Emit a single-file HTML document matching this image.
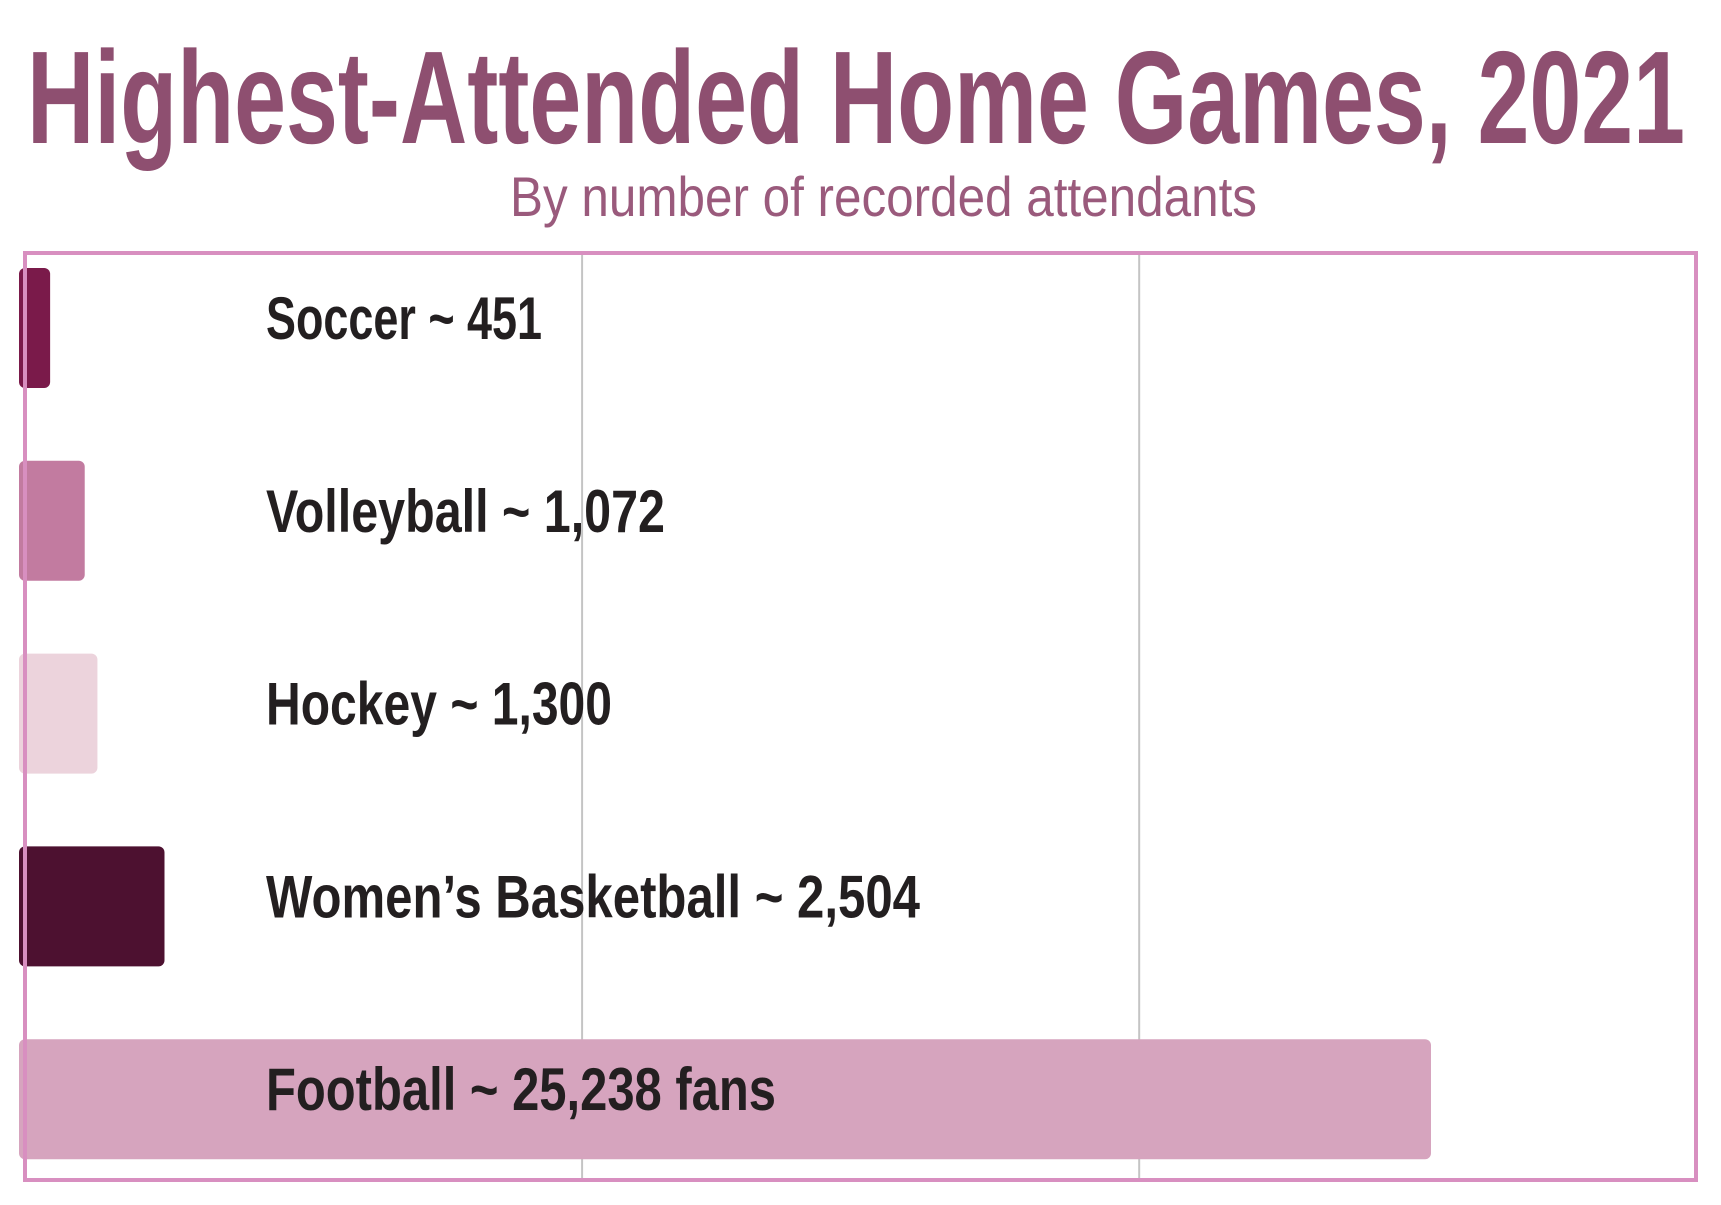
<!DOCTYPE html>
<html><head><meta charset="utf-8">
<style>
html,body{margin:0;padding:0;background:#fff;}
svg{display:block;}
text{font-family:"Liberation Sans Narrow","Liberation Sans",sans-serif;}
</style></head>
<body>
<svg id="chart" width="1721" height="1205" viewBox="0 0 1721 1205" xmlns="http://www.w3.org/2000/svg">
  <text x="27" y="143" font-size="132" font-weight="bold" fill="#8e4f70" textLength="1658" lengthAdjust="spacingAndGlyphs">Highest-Attended Home Games, 2021</text>
  <text x="510" y="216" font-size="56" fill="#9a5a7c" textLength="747" lengthAdjust="spacingAndGlyphs">By number of recorded attendants</text>
  <g id="grid"></g>
  <g id="bars"></g>
  <rect x="25" y="253" width="1671" height="927" fill="none" stroke="#d88fc0" stroke-width="4"/>
</svg>
<script>
const categories = ["Soccer", "Volleyball", "Hockey", "Women\u2019s Basketball", "Football"];
const values = [451, 1072, 1300, 2504, 25238];
const valueLabels = ["451", "1,072", "1,300", "2,504", "25,238 fans"];
const gridTicks = [10000, 20000];

const NS = "http://www.w3.org/2000/svg";
const x0 = 25, pxPerUnit = 1406 / 25238;
function xScale(v){ return x0 + v * pxPerUnit; }
const bandTop = 268, bandStep = 192.8, barH = 120;
function yScale(i){ return bandTop + i * bandStep; }
const colors = ["#7a1a4a", "#c27ba0", "#ecd3dc", "#4d1130", "#d6a4be"];
const labelWidths = [276, 399, 346, 654, 510];

const grid = document.getElementById("grid");
gridTicks.forEach(t => {
  const l = document.createElementNS(NS, "line");
  l.setAttribute("x1", xScale(t)); l.setAttribute("x2", xScale(t));
  l.setAttribute("y1", 253); l.setAttribute("y2", 1180);
  l.setAttribute("stroke", "#c4c4c4"); l.setAttribute("stroke-width", "2");
  
  
  grid.appendChild(l);
});

const bars = document.getElementById("bars");
categories.forEach((c, i) => {
  const r = document.createElementNS(NS, "rect");
  const w = xScale(values[i]) - x0;
  r.setAttribute("x", x0 - 6); r.setAttribute("y", yScale(i));
  r.setAttribute("width", w + 6); r.setAttribute("height", barH);
  r.setAttribute("rx", 6); r.setAttribute("fill", colors[i]);
  
  
  bars.appendChild(r);
  const t = document.createElementNS(NS, "text");
  t.setAttribute("x", 266); t.setAttribute("y", yScale(i) + 71);
  t.setAttribute("font-size", "60"); t.setAttribute("font-weight", "bold");
  t.setAttribute("fill", "#231f20");
  t.setAttribute("textLength", labelWidths[i]);
  t.setAttribute("lengthAdjust", "spacingAndGlyphs");
  t.textContent = c + " ~ " + valueLabels[i];
  
  
  bars.appendChild(t);
});
</script>
</body></html>
